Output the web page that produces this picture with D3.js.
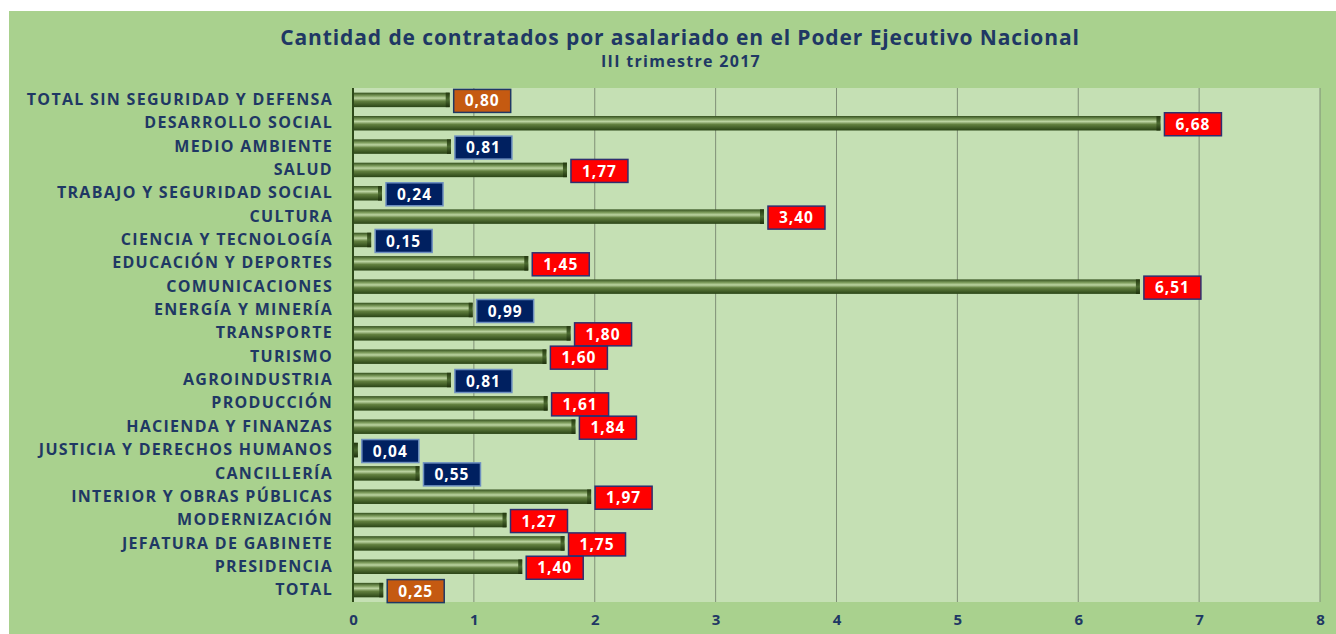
<!DOCTYPE html>
<html>
<head>
<meta charset="utf-8">
<script src="https://cdnjs.cloudflare.com/ajax/libs/d3/7.8.5/d3.min.js"></script>
<style>
  body { margin: 0; background: #ffffff; }
  svg text { font-family: "Open Sans", "DejaVu Sans", sans-serif; }
</style>
</head>
<body>
<div id="chart"></div>
<script>
var categories = [
  "TOTAL SIN SEGURIDAD Y DEFENSA",
  "DESARROLLO SOCIAL",
  "MEDIO AMBIENTE",
  "SALUD",
  "TRABAJO Y SEGURIDAD SOCIAL",
  "CULTURA",
  "CIENCIA Y TECNOLOGÍA",
  "EDUCACIÓN Y DEPORTES",
  "COMUNICACIONES",
  "ENERGÍA Y MINERÍA",
  "TRANSPORTE",
  "TURISMO",
  "AGROINDUSTRIA",
  "PRODUCCIÓN",
  "HACIENDA Y FINANZAS",
  "JUSTICIA Y DERECHOS HUMANOS",
  "CANCILLERÍA",
  "INTERIOR Y OBRAS PÚBLICAS",
  "MODERNIZACIÓN",
  "JEFATURA DE GABINETE",
  "PRESIDENCIA",
  "TOTAL"
];
var values = [0.80, 6.68, 0.81, 1.77, 0.24, 3.40, 0.15, 1.45, 6.51, 0.99, 1.80, 1.60, 0.81, 1.61, 1.84, 0.04, 0.55, 1.97, 1.27, 1.75, 1.40, 0.25];
var totals = ["TOTAL SIN SEGURIDAD Y DEFENSA", "TOTAL"];
var xTicks = [0, 1, 2, 3, 4, 5, 6, 7, 8];

var width = 1336, height = 634;
var plot = { left: 353, right: 1320, top: 88, bottom: 602 };

var svg = d3.select("#chart").append("svg")
  .attr("width", width)
  .attr("height", height);

var defs = svg.append("defs");
var grad = defs.append("linearGradient")
  .attr("id", "barGrad")
  .attr("x1", 0).attr("y1", 0).attr("x2", 0).attr("y2", 1);
grad.append("stop").attr("offset", "0%").attr("stop-color", "#34501e");
grad.append("stop").attr("offset", "22%").attr("stop-color", "#7d9c5c");
grad.append("stop").attr("offset", "38%").attr("stop-color", "#bcd4a2");
grad.append("stop").attr("offset", "58%").attr("stop-color", "#62803f");
grad.append("stop").attr("offset", "100%").attr("stop-color", "#2a4416");

var endGrad = defs.append("linearGradient")
  .attr("id", "endGrad")
  .attr("x1", 0).attr("y1", 0).attr("x2", 0).attr("y2", 1);
endGrad.append("stop").attr("offset", "0%").attr("stop-color", "#24380f");
endGrad.append("stop").attr("offset", "50%").attr("stop-color", "#4b6a30");
endGrad.append("stop").attr("offset", "100%").attr("stop-color", "#1e300c");

// outer background
svg.append("rect")
  .attr("x", 9).attr("y", 11)
  .attr("width", width - 9).attr("height", height - 11)
  .attr("fill", "#a9d18e");

// plot area
svg.append("rect")
  .attr("x", plot.left).attr("y", plot.top)
  .attr("width", plot.right - plot.left).attr("height", plot.bottom - plot.top)
  .attr("fill", "#c5e0b4");

var x = d3.scaleLinear().domain([0, 8]).range([plot.left, plot.right]);
var y = d3.scaleBand().domain(categories).range([plot.top, plot.bottom]).paddingInner(0.38).paddingOuter(0.2);

// gridlines
svg.append("g")
  .selectAll("line")
  .data(xTicks.slice(1))
  .enter()
  .append("line")
  .attr("x1", function(d) { return x(d); })
  .attr("x2", function(d) { return x(d); })
  .attr("y1", plot.top)
  .attr("y2", plot.bottom)
  .attr("stroke", "#7f8f76")
  .attr("stroke-width", 1);

// x axis labels
var xAxis = d3.axisBottom(x).tickValues(xTicks).tickSize(0).tickPadding(12);
var gx = svg.append("g")
  .attr("transform", "translate(0," + plot.bottom + ")")
  .call(xAxis);
gx.select(".domain").remove();
gx.selectAll("text")
  .attr("fill", "#1f3864")
  .style("font-size", "15px")
  .style("font-weight", "bold");

// y axis labels
var yAxis = d3.axisLeft(y).tickSize(0).tickPadding(20);
var gy = svg.append("g")
  .attr("transform", "translate(" + plot.left + ",0)")
  .call(yAxis);
gy.select(".domain").remove();
gy.selectAll("text")
  .attr("fill", "#1f3864")
  .style("font-size", "16px")
  .style("letter-spacing", "1.3px")
  .style("font-weight", "bold");

// bars
var bars = svg.append("g")
  .selectAll("g")
  .data(categories)
  .enter()
  .append("g");

bars.append("rect")
  .attr("x", x(0))
  .attr("y", function(d) { return y(d); })
  .attr("width", function(d, i) { return x(values[i]) - x(0); })
  .attr("height", y.bandwidth())
  .attr("fill", "url(#barGrad)");

bars.append("rect")
  .attr("x", function(d, i) { return Math.max(x(0), x(values[i]) - 4); })
  .attr("y", function(d) { return y(d); })
  .attr("width", function(d, i) { return Math.min(4, x(values[i]) - x(0)); })
  .attr("height", y.bandwidth())
  .attr("fill", "url(#endGrad)");

// zero axis line
svg.append("line")
  .attr("x1", x(0)).attr("x2", x(0))
  .attr("y1", plot.top).attr("y2", plot.bottom)
  .attr("stroke", "#2e4a1a")
  .attr("stroke-width", 2);

// value labels
var fmt = function(v) { return v.toFixed(2).replace(".", ","); };
var boxW = 57, boxH = 23;

var labels = svg.append("g")
  .selectAll("g")
  .data(categories)
  .enter()
  .append("g")
  .attr("transform", function(d, i) {
    var cy = y(d) + y.bandwidth() / 2;
    return "translate(" + (x(values[i]) + 4) + "," + (cy - boxH / 2 + 1) + ")";
  });

labels.append("rect")
  .attr("width", boxW)
  .attr("height", boxH)
  .attr("fill", function(d, i) {
    if (totals.indexOf(d) >= 0) return "#c55a11";
    return values[i] >= 1 ? "#ff0000" : "#002060";
  })
  .attr("stroke", function(d, i) {
    if (totals.indexOf(d) >= 0) return "#1f3864";
    return values[i] >= 1 ? "#2f2f6f" : "#6d8fc0";
  })
  .attr("stroke-width", 1.5);

labels.append("text")
  .attr("x", boxW / 2)
  .attr("y", boxH / 2)
  .attr("dy", "0.36em")
  .attr("text-anchor", "middle")
  .attr("fill", "#ffffff")
  .style("font-size", "15.5px")
  .style("letter-spacing", "1px")
  .style("font-weight", "bold")
  .text(function(d, i) { return fmt(values[i]); });

// titles
svg.append("text")
  .attr("x", 680)
  .attr("y", 45)
  .attr("text-anchor", "middle")
  .attr("fill", "#1f3864")
  .style("font-size", "21px")
  .style("letter-spacing", "0.9px")
  .style("font-weight", "bold")
  .text("Cantidad de contratados por asalariado  en el Poder Ejecutivo Nacional");

svg.append("text")
  .attr("x", 681)
  .attr("y", 67)
  .attr("text-anchor", "middle")
  .attr("fill", "#1f3864")
  .style("font-size", "16px")
  .style("letter-spacing", "1.3px")
  .style("font-weight", "bold")
  .text("III trimestre 2017");
</script>
</body>
</html>
